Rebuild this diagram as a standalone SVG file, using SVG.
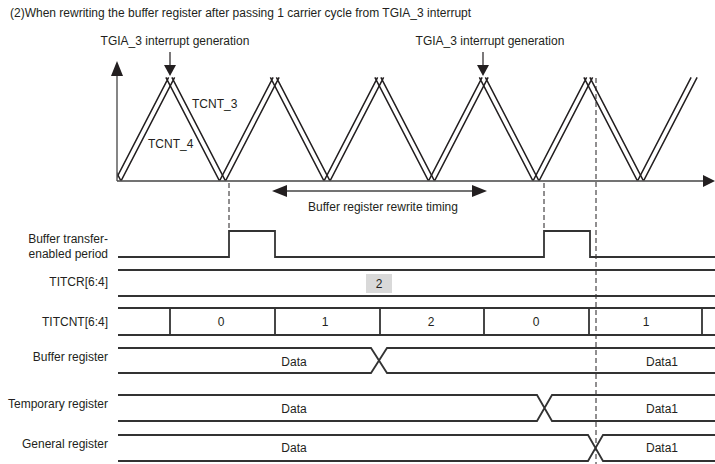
<svg xmlns="http://www.w3.org/2000/svg" width="715" height="464" viewBox="0 0 715 464">
<style>
text{font-family:"Liberation Sans",Arial,sans-serif;fill:#231f20}
.t{font-size:12px}
.l{font-size:12px}
.w{stroke:#231f20;stroke-width:1.5;fill:none}
.ax{stroke:#444;stroke-width:1.3;fill:none}
.sig{stroke:#333;stroke-width:1.8;fill:none}
.d{stroke:#231f20;stroke-width:1;stroke-dasharray:5 3;fill:none}
.ah{fill:#231f20}
</style>
<defs>
<clipPath id="wclip"><rect x="117.5" y="0" width="600" height="180.5"/></clipPath>
</defs>
<rect width="715" height="464" fill="#fff"/>
<text class="t" x="10" y="17">(2)When rewriting the buffer register after passing 1 carrier cycle from TGIA_3 interrupt</text>

<g id="axes">
<line class="ax" x1="117" y1="181" x2="117" y2="72"/>
<polygon class="ah" points="111,76 123,76 117,61"/>
<line class="ax" x1="117" y1="181" x2="705" y2="181"/>
<polygon class="ah" points="703,175 703,187 715,181"/>
</g>

<g id="tcnt-waves" clip-path="url(#wclip)">
<path class="w" d="M113.62,183.66L168.63,77.34M165.87,77.34L220.88,183.66M218.12,183.66L273.13,77.34M270.37,77.34L325.38,183.66M322.62,183.66L377.63,77.34M374.87,77.34L429.88,183.66M427.12,183.66L482.13,77.34M479.37,77.34L534.38,183.66M531.62,183.66L586.63,77.34M583.87,77.34L638.88,183.66M636.12,183.66L691.13,77.34"/>
<path class="w" d="M67.37,77.34L122.38,183.66M119.62,183.66L174.63,77.34M171.87,77.34L226.88,183.66M224.12,183.66L279.13,77.34M276.37,77.34L331.38,183.66M328.62,183.66L383.63,77.34M380.87,77.34L435.88,183.66M433.12,183.66L488.13,77.34M485.37,77.34L540.38,183.66M537.62,183.66L592.63,77.34M589.87,77.34L644.88,183.66M642.12,183.66L697.13,77.34"/>
</g>
<text class="l" x="192" y="108">TCNT_3</text>
<text class="l" x="148" y="148">TCNT_4</text>

<g id="interrupt-1">
<text class="l" x="175" y="45" text-anchor="middle">TGIA_3 interrupt generation</text>
<line x1="170" y1="52" x2="170" y2="66" stroke="#231f20" stroke-width="1.2"/>
<polygon class="ah" points="164,65 176,65 170,76"/>
</g>
<g id="interrupt-2">
<text class="l" x="490" y="45" text-anchor="middle">TGIA_3 interrupt generation</text>
<line x1="483" y1="52" x2="483" y2="66" stroke="#231f20" stroke-width="1.2"/>
<polygon class="ah" points="477,65 489,65 483,76"/>
</g>

<g id="rewrite-timing">
<line x1="285" y1="191" x2="474" y2="191" stroke="#444" stroke-width="1.3"/>
<polygon class="ah" points="272,191 287,185 287,197"/>
<polygon class="ah" points="487,191 472,185 472,197"/>
<text class="l" x="383" y="211" text-anchor="middle">Buffer register rewrite timing</text>
</g>

<g id="dashes">
<line class="d" x1="229" y1="183" x2="229" y2="231"/>
<line class="d" x1="544" y1="183" x2="544" y2="231"/>
<line class="d" x1="596" y1="78" x2="596" y2="464"/>
</g>

<g id="buffer-transfer">
<text class="l" x="108" y="243" text-anchor="end">Buffer transfer-</text>
<text class="l" x="108" y="258" text-anchor="end">enabled period</text>
<path class="sig" d="M118,257H229V231H275V257H544V231H590V257H715"/>
</g>

<g id="titcr">
<text class="l" x="108" y="286" text-anchor="end">TITCR[6:4]</text>
<line class="sig" x1="118" y1="270" x2="715" y2="270"/>
<line class="sig" x1="118" y1="296" x2="715" y2="296"/>
<rect x="366" y="274" width="26" height="19" fill="#d9d9d9"/>
<text class="l" x="379" y="288" text-anchor="middle">2</text>
</g>

<g id="titcnt">
<text class="l" x="108" y="326" text-anchor="end">TITCNT[6:4]</text>
<line class="sig" x1="118" y1="308" x2="715" y2="308"/>
<line class="sig" x1="118" y1="335" x2="715" y2="335"/>
<path class="sig" d="M170,308V335M275,308V335M380,308V335M484,308V335M589,308V335M702,308V335"/>
<text class="l" x="221" y="326" text-anchor="middle">0</text>
<text class="l" x="325" y="326" text-anchor="middle">1</text>
<text class="l" x="431" y="326" text-anchor="middle">2</text>
<text class="l" x="536" y="326" text-anchor="middle">0</text>
<text class="l" x="646" y="326" text-anchor="middle">1</text>
</g>

<g id="buffer-register">
<text class="l" x="108" y="361" text-anchor="end">Buffer register</text>
<path class="sig" d="M118,348H371L387,373H715M118,373H371L387,348H715"/>
<text class="l" x="294" y="366" text-anchor="middle">Data</text>
<text class="l" x="662" y="366" text-anchor="middle">Data1</text>
</g>

<g id="temporary-register">
<text class="l" x="108" y="408" text-anchor="end">Temporary register</text>
<path class="sig" d="M118,395H537L552,421H715M118,421H537L552,395H715"/>
<text class="l" x="294" y="413" text-anchor="middle">Data</text>
<text class="l" x="662" y="413" text-anchor="middle">Data1</text>
</g>

<g id="general-register">
<text class="l" x="108" y="448" text-anchor="end">General register</text>
<path class="sig" d="M118,435H588L603,461H715M118,461H588L603,435H715"/>
<text class="l" x="294" y="452" text-anchor="middle">Data</text>
<text class="l" x="662" y="452" text-anchor="middle">Data1</text>
</g>
</svg>
